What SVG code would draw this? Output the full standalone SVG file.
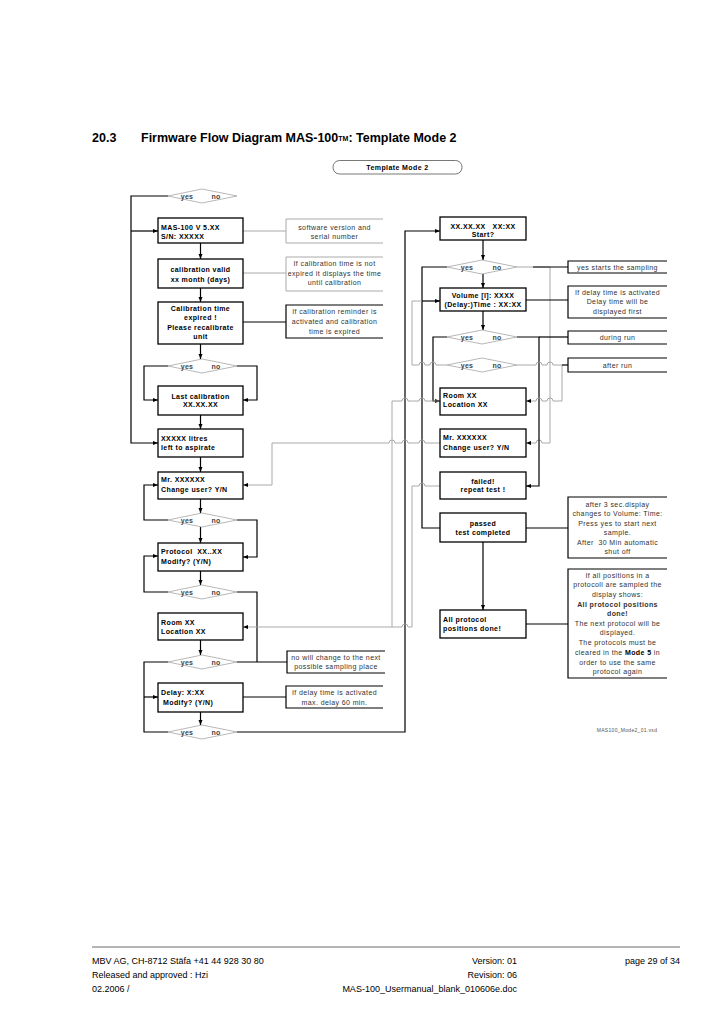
<svg xmlns="http://www.w3.org/2000/svg" width="728" height="1030" viewBox="0 0 728 1030">
<style>
.bg{fill:#fff}
.box{fill:#fff;stroke:#000;stroke-width:1.3}
.dia{fill:#fff;stroke:#9a9a9a;stroke-width:0.7}
.ann{fill:none;stroke:#000;stroke-width:1.2}
.anng{fill:none;stroke:#a0a0a0;stroke-width:0.9}
.c{fill:none;stroke:#000;stroke-width:1.2}
.g{fill:none;stroke:#a0a0a0;stroke-width:0.9}
text{font-family:"Liberation Sans",Arial,Helvetica,sans-serif}
.t{font-size:7px;font-weight:bold;letter-spacing:0.4px;fill:#000}
.m{text-anchor:middle}
.a{font-size:7px;letter-spacing:0.4px;fill:#333;text-anchor:middle}
.yn{font-size:7px;font-weight:bold;letter-spacing:0.3px;fill:#444;text-anchor:middle}
.f{font-size:9px;fill:#000}
.h{font-size:12.5px;font-weight:bold;fill:#000}
</style>
<defs>
<marker id="ah" viewBox="0 0 10 10" refX="10" refY="5" markerWidth="5" markerHeight="5" orient="auto" markerUnits="userSpaceOnUse"><path d="M0,1 L10,5 L0,9 z" fill="#000"/></marker>
</defs>
<rect class="bg" x="0" y="0" width="728" height="1030"/>

<g id="title">
<text class="h" x="92" y="142">20.3</text>
<text class="h" x="141" y="142">Firmware Flow Diagram MAS-100<tspan font-size="7" dy="-1">TM</tspan><tspan dy="1">: Template Mode 2</tspan></text>
</g>

<g id="start-mode">
<rect x="333" y="160.5" width="129" height="13.5" rx="6.5" fill="#fff" stroke="#555" stroke-width="0.8"/>
<text class="t m" x="397.5" y="170">Template Mode 2</text>
</g>

<g id="connectors">
<path class="c" d="M168,196 H131 V443 H158" marker-end="url(#ah)"/>
<path class="c" d="M131,231 H158" marker-end="url(#ah)"/>
<path class="c" d="M200.5,243 V259" marker-end="url(#ah)"/>
<path class="c" d="M200.5,288 V302" marker-end="url(#ah)"/>
<path class="c" d="M200.5,344 V359" marker-end="url(#ah)"/>
<path class="c" d="M168,366 H144 V400 H158" marker-end="url(#ah)"/>
<path class="c" d="M237,366 H257 V400 H243" marker-end="url(#ah)"/>
<path class="c" d="M200.5,415 V429" marker-end="url(#ah)"/>
<path class="c" d="M200.5,457 V472" marker-end="url(#ah)"/>
<path class="c" d="M200.5,499 V513" marker-end="url(#ah)"/>
<path class="c" d="M168,520 H144 V485 H158" marker-end="url(#ah)"/>
<path class="c" d="M237,520 H257 V557 H243" marker-end="url(#ah)"/>
<path class="c" d="M200.5,527 V543" marker-end="url(#ah)"/>
<path class="c" d="M200.5,571 V585" marker-end="url(#ah)"/>
<path class="c" d="M168,592 H144 V556 H158" marker-end="url(#ah)"/>
<path class="c" d="M237,592 H257 V662"/>
<path class="c" d="M200.5,640 V655" marker-end="url(#ah)"/>
<path class="c" d="M237,662 H287"/>
<path class="c" d="M168,662 H144 V732 H168"/>
<path class="c" d="M144,697 H158" marker-end="url(#ah)"/>
<path class="c" d="M200.5,712 V725" marker-end="url(#ah)"/>
<path class="c" d="M237,732 H405 V231 H440" marker-end="url(#ah)"/>
<path class="g" d="M243,231 H286"/>
<path class="g" d="M243,273 H286"/>
<path class="c" d="M243,322 H286"/>
<path class="c" d="M243,697 H286"/>
<path class="c" d="M483,240 V260" marker-end="url(#ah)"/>
<path class="c" d="M447,267 H422 V528 H440"/>
<path class="c" d="M422,301 H440" marker-end="url(#ah)"/>
<path class="c" d="M483,274 V288" marker-end="url(#ah)"/>
<path class="g" d="M517,267 H550 V443 H542 a3,3 0 0 0 -6,0 H526" marker-end="url(#ah)"/>
<path class="c" d="M533,267 H568"/>
<path class="c" d="M483,311 V330" marker-end="url(#ah)"/>
<path class="c" d="M447,337 H433 V401 H440" marker-end="url(#ah)"/>
<path class="c" d="M517,337 H539 V486 H526" marker-end="url(#ah)"/>
<path class="c" d="M539,337 H568"/>
<path class="g" d="M447,365 H436 a3,3 0 0 0 -6,0 H425 a3,3 0 0 0 -6,0 H412 V301 H422"/>
<path class="g" d="M517,365 H536 a3,3 0 0 1 6,0 H547 a3,3 0 0 1 6,0 H562 V401 H553 a3,3 0 0 0 -6,0 H542 a3,3 0 0 0 -6,0 H526" marker-end="url(#ah)"/>
<path class="c" d="M562,365 H568"/>
<path class="g" d="M440,401 H425 a3,3 0 0 0 -6,0 H408 a3,3 0 0 0 -6,0 H392 V627"/>
<path class="g" d="M440,486 H425 a3,3 0 0 0 -6,0 H412 V627 H408 a3,3 0 0 0 -6,0 H243" marker-end="url(#ah)"/>
<path class="g" d="M440,443 H425 a3,3 0 0 0 -6,0 H408 a3,3 0 0 0 -6,0 H395 a3,3 0 0 0 -6,0 H272 V485 H243" marker-end="url(#ah)"/>
<path class="c" d="M526,300 H568"/>
<path class="c" d="M526,528 H568"/>
<path class="c" d="M483,542 V610" marker-end="url(#ah)"/>
<path class="c" d="M526,624 H568"/>
</g>

<g id="d1"><polygon class="dia" points="168,196 202,189 237,196 202,203"/><text class="yn" x="187" y="198.5">yes</text><text class="yn" x="216" y="198.5">no</text></g>
<g id="n-mas"><rect class="box" x="158" y="218" width="85" height="25"/><text class="t" x="161" y="229.5">MAS-100 V 5.XX</text><text class="t" x="161" y="238.5">S/N: XXXXX</text></g>
<g id="n-calvalid"><rect class="box" x="158" y="259" width="85" height="29"/><text class="t m" x="200.5" y="271.5">calibration valid</text><text class="t m" x="200.5" y="281.5">xx month (days)</text></g>
<g id="n-calexp"><rect class="box" x="158" y="302" width="85" height="42"/><text class="t m" x="200.5" y="310.5">Calibration time</text><text class="t m" x="200.5" y="319.5">expired !</text><text class="t m" x="200.5" y="329.5">Please recalibrate</text><text class="t m" x="200.5" y="338.5">unit</text></g>
<g id="d2"><polygon class="dia" points="168,366 202,359 237,366 202,373"/><text class="yn" x="187" y="368.5">yes</text><text class="yn" x="216" y="368.5">no</text></g>
<g id="n-lastcal"><rect class="box" x="158" y="386" width="85" height="29"/><text class="t m" x="200.5" y="398.5">Last calibration</text><text class="t m" x="200.5" y="406.5">XX.XX.XX</text></g>
<g id="n-litres"><rect class="box" x="158" y="429" width="85" height="28"/><text class="t" x="161" y="440.5">XXXXX litres</text><text class="t" x="161" y="449.5">left to aspirate</text></g>
<g id="n-mr1"><rect class="box" x="158" y="472" width="85" height="27"/><text class="t" x="161" y="481.5">Mr. XXXXXX</text><text class="t" x="161" y="491.5">Change user? Y/N</text></g>
<g id="d3"><polygon class="dia" points="168,520 202,513 237,520 202,527"/><text class="yn" x="187" y="522.5">yes</text><text class="yn" x="216" y="522.5">no</text></g>
<g id="n-protocol"><rect class="box" x="158" y="543" width="85" height="28"/><text class="t" x="161" y="553.5" xml:space="preserve">Protocol  XX..XX</text><text class="t" x="161" y="563.5">Modify? (Y/N)</text></g>
<g id="d4"><polygon class="dia" points="168,592 202,585 237,592 202,599"/><text class="yn" x="187" y="594.5">yes</text><text class="yn" x="216" y="594.5">no</text></g>
<g id="n-room1"><rect class="box" x="158" y="613" width="85" height="27"/><text class="t" x="161" y="624.5">Room XX</text><text class="t" x="161" y="633.5">Location XX</text></g>
<g id="d5"><polygon class="dia" points="168,662 202,655 237,662 202,669"/><text class="yn" x="187" y="664.5">yes</text><text class="yn" x="216" y="664.5">no</text></g>
<g id="n-delay"><rect class="box" x="158" y="683" width="85" height="29"/><text class="t" x="161" y="694.5">Delay: X:XX</text><text class="t" x="163" y="704.5">Modify? (Y/N)</text></g>
<g id="d6"><polygon class="dia" points="168,732 202,725 237,732 202,739"/><text class="yn" x="187" y="734.5">yes</text><text class="yn" x="216" y="734.5">no</text></g>

<g id="a-sw"><path class="anng" d="M383,219 H286 V243 H383"/><text class="a" x="334.5" y="229.5">software version and</text><text class="a" x="334.5" y="238.5">serial number</text></g>
<g id="a-calvalid"><path class="anng" d="M383,257 H286 V291 H383"/><text class="a" x="334.5" y="265.5">If calibration time is not</text><text class="a" x="334.5" y="275.5">expired it displays the time</text><text class="a" x="334.5" y="284.5">until calibration</text></g>
<g id="a-calexp"><path class="ann" d="M383,305 H286 V338 H383"/><text class="a" x="334.5" y="313.5">If calibration reminder is</text><text class="a" x="334.5" y="323.5">activated and calibration</text><text class="a" x="334.5" y="333.5">time is expired</text></g>
<g id="a-room"><path class="ann" d="M385,651 H287 V673 H385"/><text class="a" x="336" y="659.5">no will change to the next</text><text class="a" x="336" y="668.5">possible sampling place</text></g>
<g id="a-delay"><path class="ann" d="M383,686 H286 V708 H383"/><text class="a" x="334.5" y="694.5">If delay time is activated</text><text class="a" x="334.5" y="704.5">max. delay 60 min.</text></g>

<g id="n-start"><rect class="box" x="440" y="217" width="86" height="23"/><text class="t m" x="483" y="228.5" xml:space="preserve">XX.XX.XX   XX:XX</text><text class="t m" x="483" y="236.5">Start?</text></g>
<g id="r1"><polygon class="dia" points="447,267 482,260 517,267 482,274"/><text class="yn" x="467" y="269.5">yes</text><text class="yn" x="497" y="269.5">no</text></g>
<g id="n-volume"><rect class="box" x="440" y="288" width="86" height="23"/><text class="t m" x="483" y="297.5">Volume [l]: XXXX</text><text class="t m" x="483" y="306.5">(Delay:)Time : XX:XX</text></g>
<g id="r2"><polygon class="dia" points="447,337 482,330 517,337 482,344"/><text class="yn" x="467" y="339.5">yes</text><text class="yn" x="497" y="339.5">no</text></g>
<g id="r3"><polygon class="dia" points="447,365 482,358 517,365 482,372"/><text class="yn" x="467" y="367.5">yes</text><text class="yn" x="497" y="367.5">no</text></g>
<g id="n-room2"><rect class="box" x="440" y="388" width="86" height="27"/><text class="t" x="443" y="397.5">Room XX</text><text class="t" x="443" y="406.5">Location XX</text></g>
<g id="n-mr2"><rect class="box" x="440" y="429" width="86" height="28"/><text class="t" x="443" y="439.5">Mr. XXXXXX</text><text class="t" x="443" y="449.5">Change user? Y/N</text></g>
<g id="n-failed"><rect class="box" x="440" y="472" width="86" height="27"/><text class="t m" x="483" y="483.5">failed!</text><text class="t m" x="483" y="491.5">repeat test !</text></g>
<g id="n-passed"><rect class="box" x="440" y="513" width="86" height="29"/><text class="t m" x="483" y="525.5">passed</text><text class="t m" x="483" y="534.5">test completed</text></g>
<g id="n-alldone"><rect class="box" x="440" y="610" width="86" height="28"/><text class="t" x="443" y="621.5">All protocol</text><text class="t" x="443" y="630.5">positions done!</text></g>

<g id="a-yes"><path class="ann" d="M667,261 H568 V273 H667"/><text class="a" x="617.5" y="269.5">yes starts the sampling</text></g>
<g id="a-vol"><path class="ann" d="M667,286 H568 V318 H667"/><text class="a" x="617.5" y="294.5">If delay time is activated</text><text class="a" x="617.5" y="304">Delay time will be</text><text class="a" x="617.5" y="313.5">displayed first</text></g>
<g id="a-during"><path class="ann" d="M667,331 H568 V344 H667"/><text class="a" x="617.5" y="340">during run</text></g>
<g id="a-after"><path class="ann" d="M667,358 H568 V372 H667"/><text class="a" x="617.5" y="367.5">after run</text></g>
<g id="a-passed"><path class="ann" d="M667,497 H568 V558 H667"/><text class="a" x="617.5" y="506.5">after 3 sec.display</text><text class="a" x="617.5" y="516">changes to Volume: Time:</text><text class="a" x="617.5" y="526">Press yes to start next</text><text class="a" x="617.5" y="535">sample.</text><text class="a" x="617.5" y="545" xml:space="preserve">After  30 Min automatic</text><text class="a" x="617.5" y="554">shut off</text></g>
<g id="a-alldone"><path class="ann" d="M667,569 H568 V678 H667"/><text class="a" x="617.5" y="577.5">If all positions in a</text><text class="a" x="617.5" y="587">protocoll are sampled the</text><text class="a" x="617.5" y="596.5">display shows:</text><text class="a" x="617.5" y="606.5" font-weight="bold" fill="#000">All protocol positions</text><text class="a" x="617.5" y="615.5" font-weight="bold" fill="#000">done!</text><text class="a" x="617.5" y="625.5">The next protocol will be</text><text class="a" x="617.5" y="634.5">displayed.</text><text class="a" x="617.5" y="644.5">The protocols must be</text><text class="a" x="617.5" y="654.5">cleared in the <tspan font-weight="bold" fill="#000">Mode 5</tspan> in</text><text class="a" x="617.5" y="664.5">order to use the same</text><text class="a" x="617.5" y="673.5">protocol again</text></g>

<text x="627" y="732" font-size="5" fill="#555" text-anchor="middle" letter-spacing="0.3">MAS100_Mode2_01.vsd</text>

<g id="footer">
<line x1="92" y1="947" x2="680" y2="947" stroke="#444" stroke-width="0.8"/>
<text class="f" x="92" y="964">MBV AG, CH-8712 Stäfa +41 44 928 30 80</text>
<text class="f" x="92" y="978">Released and approved : Hzi</text>
<text class="f" x="92" y="992">02.2006 /</text>
<text class="f" x="517" y="964" text-anchor="end">Version: 01</text>
<text class="f" x="517" y="978" text-anchor="end">Revision: 06</text>
<text class="f" x="517" y="992" text-anchor="end">MAS-100_Usermanual_blank_010606e.doc</text>
<text class="f" x="680" y="964" text-anchor="end">page 29 of 34</text>
</g>
</svg>
